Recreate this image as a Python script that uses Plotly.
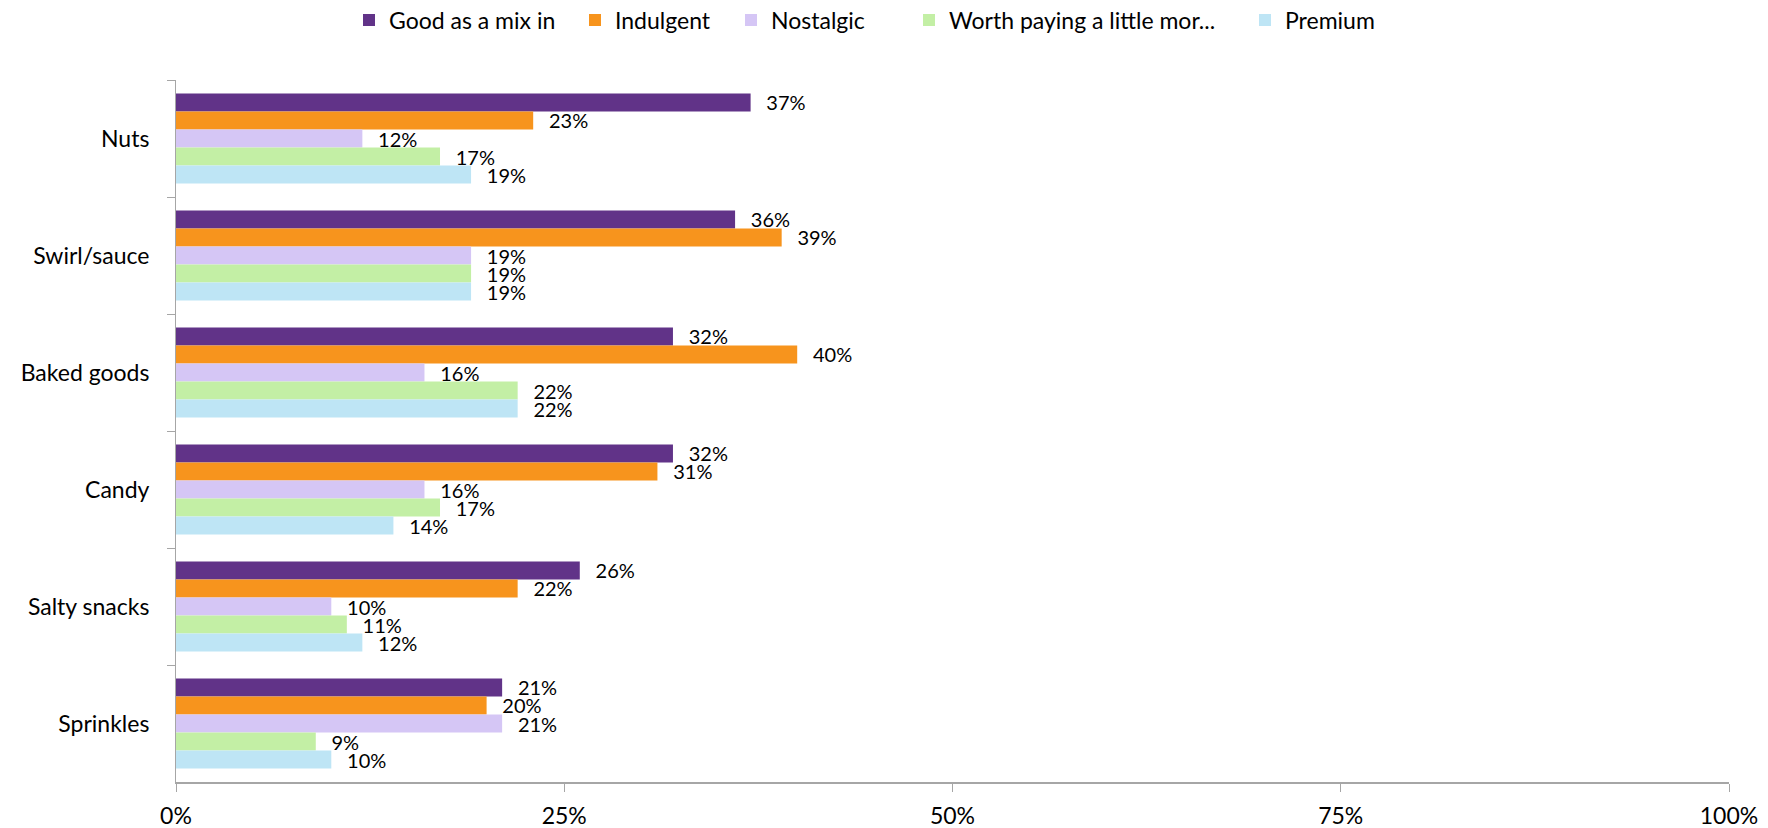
import plotly.graph_objects as go

categories = ["Nuts", "Swirl/sauce", "Baked goods", "Candy", "Salty snacks", "Sprinkles"]
series_names = ["Good as a mix in", "Indulgent", "Nostalgic", "Worth paying a little mor...", "Premium"]
good_mix = [37, 36, 32, 32, 26, 21]
indulgent = [23, 39, 40, 31, 22, 20]
nostalgic = [12, 19, 16, 16, 10, 21]
worth_more = [17, 19, 22, 17, 11, 9]
premium = [19, 19, 22, 14, 12, 10]
x_ticks = [0, 25, 50, 75, 100]
x_tick_labels = ["0%", "25%", "50%", "75%", "100%"]

colors = ["#613388", "#F7941D", "#D5C6F5", "#C3EFA5", "#BEE5F5"]
values = [good_mix, indulgent, nostalgic, worth_more, premium]

FONT = "Lato"
W, H = 1768, 828
ML, MR, MT, MB = 176, 39, 80, 46

# legend text start positions (pixels) for each entry
legend_text_px = [389, 615, 771, 949, 1285]
legend_keys = ["legend", "legend2", "legend3", "legend4", "legend5"]

fig = go.Figure()
for name, vals, col, lk in zip(series_names, values, colors, legend_keys):
    fig.add_trace(go.Bar(
        y=categories, x=vals, name=name, orientation="h",
        marker=dict(color=col, line=dict(width=0)),
        text=["\u00a0\u00a0\u2009" + f"{v}%" for v in vals], textposition="outside",
        textfont=dict(size=20, color="#000000", family=FONT),
        constraintext="none",
        cliponaxis=False,
        legend=lk,
    ))

layout_legends = {}
for lk, tx in zip(legend_keys, legend_text_px):
    layout_legends[lk] = dict(
        orientation="h", xref="container", x=(tx - 40) / W, xanchor="left",
        yref="container", y=1 - 20 / H, yanchor="middle",
        font=dict(size=23, family=FONT, color="#000000"),
        bgcolor="rgba(0,0,0,0)", borderwidth=0, itemwidth=30,
    )

fig.update_layout(
    barmode="group", bargap=0.23, bargroupgap=0,
    width=W, height=H,
    margin=dict(l=ML, r=MR, t=MT, b=MB, autoexpand=False),
    paper_bgcolor="white", plot_bgcolor="white",
    font=dict(family=FONT, size=22, color="#000000"),
    showlegend=True,
    **layout_legends,
)
fig.update_xaxes(range=[0, 100], tickvals=x_ticks, ticktext=x_tick_labels, automargin=False,
                 showgrid=False, zeroline=False, showline=True, linecolor="#A6A6A6", linewidth=2,
                 ticks="outside", ticklen=8, tickcolor="#A6A6A6", tickwidth=1,
                 ticklabelstandoff=4, tickfont=dict(size=23, family=FONT))
fig.update_yaxes(autorange="reversed", showgrid=False, zeroline=False, automargin=False,
                 showline=True, linecolor="#A6A6A6", linewidth=1,
                 ticks="outside", tickson="boundaries", ticklen=8, tickcolor="#A6A6A6",
                 ticklabelstandoff=21, tickfont=dict(size=23, family=FONT))

fig.write_html("out.html")
